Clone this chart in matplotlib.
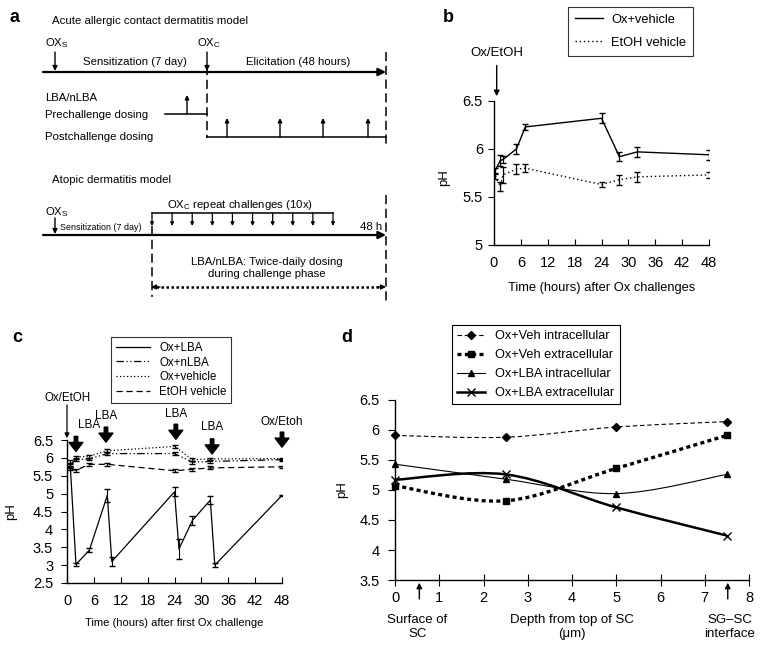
import numpy as np
import matplotlib
matplotlib.use("Agg")
import matplotlib.pyplot as plt
import matplotlib.transforms as mtransforms
from matplotlib.path import Path
from matplotlib.patches import PathPatch
from matplotlib.lines import Line2D

plt.rcParams['font.family'] = ['Liberation Sans', 'DejaVu Sans']
plt.rcParams['mathtext.fontset'] = 'custom'
plt.rcParams['mathtext.rm'] = 'Liberation Sans'
plt.rcParams['mathtext.it'] = 'Liberation Sans:italic'

W, H = 762, 651

# panel b: acute model, pH after challenge
b_hours_ox = [0.2, 1.4, 2, 5, 7, 24, 28, 32, 48]
b_ph_ox = [5.77, 5.88, 5.89, 6.0, 6.23, 6.32, 5.92, 5.97, 5.94]
b_err_ox = [0.03, 0.06, 0.04, 0.05, 0.03, 0.05, 0.05, 0.05, 0.05]
b_hours_etoh = [0.3, 1.4, 2, 5, 7, 24, 28, 32, 48]
b_ph_etoh = [5.72, 5.61, 5.73, 5.79, 5.8, 5.63, 5.68, 5.71, 5.73]
b_err_etoh = [0.03, 0.05, 0.08, 0.05, 0.04, 0.03, 0.05, 0.05, 0.03]

# panel c: LBA treatment
c_hours = [0.7, 2, 5, 9, 24, 28, 32, 48]
c_hours_lba = [0.7, 2, 5, 9, 10, 24, 25, 28, 32, 33, 48]
c_lba = [5.85, 3.02, 3.42, 4.95, 3.1, 5.05, 3.45, 4.25, 4.82, 3.0, 4.95]
c_lba_err = [0.08, 0.04, 0.05, 0.18, 0.12, 0.13, 0.27, 0.13, 0.1, 0.06, 0.02]
c_nlba = [5.8, 5.95, 5.97, 6.12, 6.12, 5.88, 5.9, 5.95]
c_veh = [5.78, 6.02, 6.05, 6.2, 6.32, 5.95, 5.97, 5.98]
c_etoh = [5.7, 5.65, 5.82, 5.82, 5.64, 5.68, 5.72, 5.75]
c_small_err = [0.05, 0.04, 0.04, 0.04, 0.04, 0.04, 0.04, 0.03]
c_arrow_hours = [2, 8.7, 24.3, 32.4, 48]
c_arrow_labels = ['LBA', 'LBA', 'LBA', 'LBA', 'Ox/Etoh']

# panel d: depth profile
d_depth = [0, 2.5, 5, 7.5]
d_veh_intra = [5.91, 5.88, 6.05, 6.14]
d_veh_extra = [5.07, 4.82, 5.36, 5.91]
d_lba_intra = [5.43, 5.18, 4.94, 5.26]
d_lba_extra = [5.17, 5.26, 4.71, 4.24]


def rect(left, top, right, bottom):
    return [left / W, 1 - bottom / H, (right - left) / W, (bottom - top) / H]


def smooth_path(x, y):
    # Excel-like smoothed line (Catmull-Rom as cubic Bezier)
    px = np.concatenate([[x[0]], x, [x[-1]]]).astype(float)
    py = np.concatenate([[y[0]], y, [y[-1]]]).astype(float)
    verts = [(x[0], y[0])]
    codes = [Path.MOVETO]
    for i in range(len(x) - 1):
        c1 = (px[i + 1] + (px[i + 2] - px[i]) / 6, py[i + 1] + (py[i + 2] - py[i]) / 6)
        c2 = (px[i + 2] - (px[i + 3] - px[i + 1]) / 6, py[i + 2] - (py[i + 3] - py[i + 1]) / 6)
        verts += [c1, c2, (x[i + 1], y[i + 1])]
        codes += [Path.CURVE4] * 3
    return Path(verts, codes)


def arrow(ax, x0, y0, x1, y1, lw=1.0, ms=8, **kw):
    ax.annotate('', xy=(x1, y1), xytext=(x0, y0), annotation_clip=False,
                arrowprops=dict(arrowstyle='-|>', color='k', lw=lw, mutation_scale=ms,
                                shrinkA=0, shrinkB=0, **kw))


def style_axes(ax):
    for s in ['top', 'right']:
        ax.spines[s].set_visible(False)
    for s in ['left', 'bottom']:
        ax.spines[s].set_linewidth(1.0)


fig = plt.figure(figsize=(W / 100, H / 100), dpi=100)

# ---------------- panel a (schematic) ----------------
axa = fig.add_axes(rect(0, 0, 400, 310))
axa.set_xlim(0, 400)
axa.set_ylim(310, 0)
axa.axis('off')
fs = 8.2
dash = (0, (6, 3))

axa.text(52, 21, 'Acute allergic contact dermatitis model', fontsize=fs, va='center')
axa.text(45, 43, 'OX$_\\mathrm{S}$', fontsize=fs, va='center')
axa.text(197, 43, 'OX$_\\mathrm{C}$', fontsize=fs, va='center')
axa.text(135, 62, 'Sensitization (7 day)', fontsize=fs, va='center', ha='center')
axa.text(298, 62, 'Elicitation (48 hours)', fontsize=fs, va='center', ha='center')
arrow(axa, 43, 72, 386, 72, lw=1.6, ms=11)
arrow(axa, 55, 52, 55, 71, lw=1.0, ms=7)
arrow(axa, 207, 52, 207, 71, lw=1.0, ms=7)
axa.plot([207, 207], [66, 138], color='k', lw=1.1, ls=dash)
axa.plot([386, 386], [52, 148], color='k', lw=1.1, ls=dash)
axa.text(45, 98, 'LBA/nLBA', fontsize=fs, va='center')
axa.text(45, 115, 'Prechallenge dosing', fontsize=fs, va='center')
axa.text(45, 137, 'Postchallenge dosing', fontsize=fs, va='center')
axa.plot([165, 207], [114, 114], color='k', lw=1.1)
arrow(axa, 187, 114, 187, 95, lw=1.0, ms=6)
axa.plot([207, 386], [137, 137], color='k', lw=1.1)
for xa in [227, 280, 323, 368]:
    arrow(axa, xa, 137, xa, 118, lw=1.0, ms=6)

axa.text(52, 180, 'Atopic dermatitis model', fontsize=fs, va='center')
axa.text(45, 212, 'OX$_\\mathrm{S}$', fontsize=fs, va='center')
arrow(axa, 55, 218, 55, 234, lw=1.0, ms=7)
arrow(axa, 43, 235, 386, 235, lw=1.6, ms=11)
axa.text(60, 227, 'Sensitization (7 day)', fontsize=6.4, va='center')
axa.text(240, 205, 'OX$_\\mathrm{C}$ repeat challenges (10x)', fontsize=fs, va='center', ha='center')
axa.plot([152, 333], [213, 213], color='k', lw=1.1)
for xa in np.linspace(152, 333, 10):
    arrow(axa, xa, 213, xa, 226, lw=0.9, ms=5)
axa.text(382, 227, '48 h', fontsize=fs, va='center', ha='right')
axa.plot([152, 152], [226, 297], color='k', lw=1.1, ls=dash)
axa.plot([386, 386], [195, 303], color='k', lw=1.1, ls=dash)
axa.text(267, 268, 'LBA/nLBA: Twice-daily dosing\nduring challenge phase', fontsize=fs,
         va='center', ha='center', linespacing=1.3)
axa.plot([156, 381], [287, 287], color='k', lw=1.8, ls=(0, (1, 1)))
arrow(axa, 160, 287, 151, 287, lw=1.0, ms=7)
arrow(axa, 377, 287, 386, 287, lw=1.0, ms=7)

# ---------------- panel b ----------------
axb = fig.add_axes(rect(494, 101, 709, 245))
axb.errorbar(b_hours_ox, b_ph_ox, yerr=b_err_ox, color='k', lw=1.0, capsize=2.5,
             elinewidth=0.9, ls='-', label='Ox+vehicle')
axb.errorbar(b_hours_etoh, b_ph_etoh, yerr=b_err_etoh, color='k', lw=1.0, capsize=2.5,
             elinewidth=0.9, ls=(0, (1, 2)), label='EtOH vehicle')
axb.set_xlim(0, 48)
axb.set_ylim(5, 6.5)
axb.set_xticks(range(0, 49, 6))
axb.set_yticks([5, 5.5, 6, 6.5])
axb.set_yticklabels(['5', '5.5', '6', '6.5'])
style_axes(axb)
axb.tick_params(axis='x', direction='in', length=4, pad=8, labelsize=10.5)
axb.tick_params(axis='y', direction='out', length=4, pad=4, labelsize=10.5)
axb.set_xlabel('Time (hours) after Ox challenges', fontsize=9.3)
axb.xaxis.set_label_coords(0.5, -0.26)
axb.set_ylabel('pH', fontsize=9.5)
axb.yaxis.set_label_coords(-0.205, 0.47)
h = [Line2D([], [], color='k', lw=1.0), Line2D([], [], color='k', lw=1.0, ls=(0, (1, 2)))]
lg = axb.legend(h, ['Ox+vehicle', 'EtOH vehicle'], loc='upper left', bbox_to_anchor=(0.344, 1.655),
                fontsize=9.3, frameon=True, fancybox=False, edgecolor='k', borderpad=0.55,
                handlelength=2.2, labelspacing=0.85, borderaxespad=0, handletextpad=0.6)
lg.get_frame().set_linewidth(0.8)
axb.text(0.6, 7.0, 'Ox/EtOH', fontsize=9.5, ha='center', va='center', clip_on=False)
arrow(axb, 0.6, 6.87, 0.6, 6.55, lw=1.0, ms=8)

# ---------------- panel c ----------------
axc = fig.add_axes(rect(67, 440, 282, 583))
ekw = dict(color='k', lw=0.9, capsize=2, elinewidth=0.8)
axc.errorbar(c_hours_lba, c_lba, yerr=c_lba_err, ls='-', **ekw)
axc.errorbar(c_hours, c_nlba, yerr=c_small_err, ls=(0, (6, 2, 1, 2, 1, 2)), **ekw)
axc.errorbar(c_hours, c_veh, yerr=c_small_err, ls=(0, (1, 1.8)), **ekw)
axc.errorbar(c_hours, c_etoh, yerr=c_small_err, ls=(0, (5, 3)), **ekw)
axc.set_xlim(0, 48)
axc.set_ylim(2.5, 6.5)
axc.set_xticks(range(0, 49, 6))
yt = [2.5, 3, 3.5, 4, 4.5, 5, 5.5, 6, 6.5]
axc.set_yticks(yt)
axc.set_yticklabels(['%g' % v for v in yt])
style_axes(axc)
axc.tick_params(axis='x', direction='in', length=4, pad=8, labelsize=10.5)
axc.tick_params(axis='y', direction='out', length=4, pad=6, labelsize=10.5)
axc.set_xlabel('Time (hours) after first Ox challenge', fontsize=8)
axc.xaxis.set_label_coords(0.5, -0.245)
axc.set_ylabel('pH', fontsize=9.5)
axc.yaxis.set_label_coords(-0.233, 0.5)
h = [Line2D([], [], color='k', lw=0.9, ls='-'),
     Line2D([], [], color='k', lw=0.9, ls=(0, (6, 2, 1, 2, 1, 2))),
     Line2D([], [], color='k', lw=0.9, ls=(0, (1, 1.8))),
     Line2D([], [], color='k', lw=0.9, ls=(0, (5, 3)))]
lg = axc.legend(h, ['Ox+LBA', 'Ox+nLBA', 'Ox+vehicle', 'EtOH vehicle'], loc='upper left',
                bbox_to_anchor=(0.205, 1.72), fontsize=8.3, frameon=True, fancybox=False,
                edgecolor='k', borderpad=0.4, handlelength=3.0, labelspacing=0.25,
                borderaxespad=0)
lg.get_frame().set_linewidth(0.8)
axc.text(0.1, 7.67, 'Ox/EtOH', fontsize=8.3, ha='center', va='center', clip_on=False)
arrow(axc, 0, 7.48, 0, 6.55, lw=0.9, ms=7)
arrow_tops = [6.6, 6.86, 6.94, 6.53, 6.72]
label_y = [6.88, 7.12, 7.2, 6.82, 6.95]
label_dx = [2.9, 0, 0, 0, 0]
for xh, lab, yt0, yl, dx in zip(c_arrow_hours, c_arrow_labels, arrow_tops, label_y, label_dx):
    axc.annotate('', xy=(xh, yt0 - 0.42), xytext=(xh, yt0), annotation_clip=False,
                 arrowprops=dict(facecolor='k', edgecolor='k', width=2.5, headwidth=10,
                                 headlength=6.5, shrink=0))
    axc.text(xh + dx, yl + 0.04, lab, fontsize=8.5, ha='center', va='center', clip_on=False)

# ---------------- panel d ----------------
axd = fig.add_axes(rect(395, 400, 749, 580))
series_d = [
    (d_veh_intra, dict(lw=0.8, ls=(0, (4, 2.5))), 'D', 4, 'Ox+Veh intracellular'),
    (d_veh_extra, dict(lw=2.4, ls=(0, (1.2, 1.0))), 's', 4, 'Ox+Veh extracellular'),
    (d_lba_intra, dict(lw=0.8, ls='-'), '^', 5, 'Ox+LBA intracellular'),
    (d_lba_extra, dict(lw=1.8, ls='-'), 'x', 5.5, 'Ox+LBA extracellular'),
]
handles = []
for vals, lkw, mk, ms, lab in series_d:
    patch = PathPatch(smooth_path(d_depth, vals), facecolor='none', edgecolor='k',
                      capstyle='butt', **{'linewidth': lkw['lw'], 'linestyle': lkw['ls']})
    axd.add_patch(patch)
    axd.plot(d_depth, vals, ls='none', marker=mk, ms=ms, color='k', mew=1.0, clip_on=False)
    handles.append(Line2D([], [], color='k', marker=mk, ms=ms, mew=1.0, **lkw))
axd.set_xlim(0, 8)
axd.set_ylim(3.5, 6.5)
axd.set_xticks(range(0, 9))
ytd = [3.5, 4, 4.5, 5, 5.5, 6, 6.5]
axd.set_yticks(ytd)
axd.set_yticklabels(['%g' % v for v in ytd])
style_axes(axd)
axd.tick_params(axis='x', direction='inout', length=8, pad=4, labelsize=10.5)
axd.tick_params(axis='y', direction='out', length=5, pad=6, labelsize=10.5)
axd.set_ylabel('pH', fontsize=9.5)
axd.yaxis.set_label_coords(-0.133, 0.5)
lg = axd.legend(handles, [s[4] for s in series_d], loc='upper left', bbox_to_anchor=(0.161, 1.417),
                fontsize=9.2, frameon=True, fancybox=False, edgecolor='k', borderpad=0.4,
                handlelength=2.2, labelspacing=0.55, borderaxespad=0, framealpha=1)
lg.get_frame().set_linewidth(0.8)
trans = mtransforms.blended_transform_factory(axd.transData, axd.transAxes)
axd.text(0.5, -0.26, 'Surface of\nSC', transform=trans, fontsize=9.5, ha='center', va='center')
axd.text(4.0, -0.26, 'Depth from top of SC\n(\u03bcm)', transform=trans, fontsize=9.5,
         ha='center', va='center')
axd.text(7.56, -0.26, 'SG\u2013SC\ninterface', transform=trans, fontsize=9.5, ha='center',
         va='center')
for xa in [0.55, 7.52]:
    axd.annotate('', xy=(xa, -0.015), xytext=(xa, -0.105), xycoords=trans, textcoords=trans,
                 annotation_clip=False,
                 arrowprops=dict(arrowstyle='-|>', color='k', lw=1.0, mutation_scale=8,
                                 shrinkA=0, shrinkB=0))

# panel letters
for letter, (x, y) in zip('abcd', [(15, 18), (448, 17), (17, 337), (347, 337)]):
    fig.text(x / W, 1 - y / H, letter, fontsize=13, fontweight='bold', ha='center', va='center')

fig.savefig('out.png', dpi=100)
